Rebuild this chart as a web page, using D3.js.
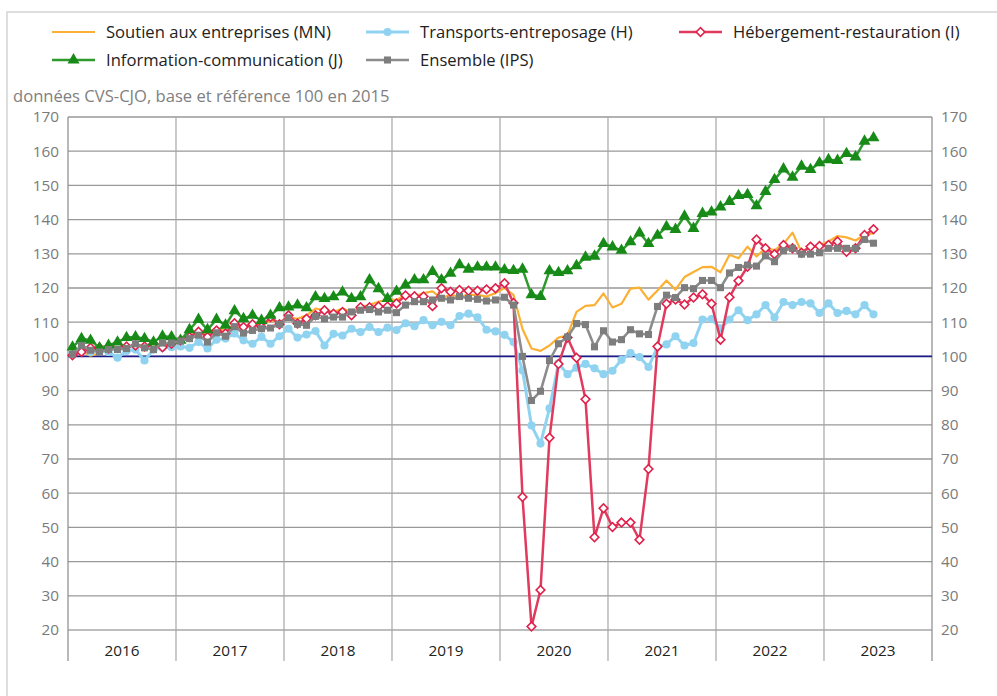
<!DOCTYPE html>
<html lang="fr">
<head>
<meta charset="utf-8">
<script src="https://cdn.jsdelivr.net/npm/d3@7/dist/d3.min.js"></script>
<style>
  body { margin: 0; background: #fff; }
  svg { font-family: "Open Sans", sans-serif; }
</style>
</head>
<body>
<div id="target"></div>
<script>
var WIDTH = 997;
var HEIGHT = 696;

// janvier 2016 -> juin 2023, mensuel
var years = ["2016", "2017", "2018", "2019", "2020", "2021", "2022", "2023"];
var yTicks = [20, 30, 40, 50, 60, 70, 80, 90, 100, 110, 120, 130, 140, 150, 160, 170];

var soutien = [
  101, 101.5, 100.2, 101, 102, 102.5, 103, 103, 103.5, 103, 103.5, 104,
  104.5, 106, 107, 106.5, 108.5, 107.5, 108.5, 108, 109.5, 109, 110.5, 110,
  111.5, 111, 112, 114, 113.5, 113, 114, 113, 114.5, 115, 116, 116.5,
  116.5, 118, 117.5, 118.5, 119, 117, 118, 117.5, 118, 118, 117.5, 118.5,
  120, 118, 108, 102.3, 101.6, 103.2, 105.5, 106.2, 113, 114.8, 115, 118.4,
  114.3, 115.4, 119.8, 120.1, 116.6, 119.3, 122.2, 119.5, 123.2, 124.7, 126.1, 126.2,
  124.6, 129.7, 128.7, 132.1, 129.2, 131.6, 131.1, 132.9, 136.2, 130.6, 132, 132.6,
  133.6, 135.2, 134.8, 133.9, 135.5, 136
];
var transports = [
  100.6, 102.3, 101.3, 101.8, 101.3, 99.6, 101.6, 102, 98.8, 102, 102.5, 102.7,
  102.9, 102.5, 104.2, 102.3, 104.9, 105.2, 106.7, 104.7, 103.7, 105.7, 103.7, 105.9,
  108.1, 105.5, 106.4, 107.4, 103.2, 106.6, 106.1, 108.1, 107.1, 108.6, 107.1, 108.4,
  107.7, 109.7, 108.8, 110.6, 109.1, 110.1, 109.1, 111.8, 112.5, 111.4, 107.8, 107.3,
  106.3, 104.2, 95.9, 79.8, 74.5, 84.8, 98, 94.8, 96.7, 97.8, 96.5, 94.8,
  95.8, 99, 101, 99.8, 96.9, 102.8, 103.5, 105.9, 103.2, 103.9, 110.8, 110.9,
  108.2, 110.8, 113.5, 110.6, 112.3, 115, 111.4, 115.9, 115, 115.9, 115.5, 112.7,
  115.5, 112.7, 113.3, 112.3, 115, 112.3
];
var hebergement = [
  100.3, 101.3, 102.5, 102.5, 102.3, 103.2, 102.9, 103.2, 102.9, 103.7, 102.7, 103.7,
  104.7, 105.7, 107.2, 105.7, 107.6, 106.7, 109.7, 108.6, 109.4, 108.6, 111.5, 109.4,
  112, 109.6, 111, 112, 113.5, 112.5, 113, 112, 114.4, 114.4, 114.6, 114.6,
  115.5, 117.8, 117.6, 117.5, 114.7, 119.9, 118.9, 119.4, 119.2, 119.2, 119.6, 119.9,
  121.4, 115.6, 58.9, 21, 31.7, 76.2, 97.8, 105.5, 99.6, 87.5, 47.1, 55.6,
  50.1, 51.4, 51.4, 46.4, 67.1, 102.9, 115.4, 116.6, 115.2, 117.2, 118.2, 115.4,
  104.9, 117.3, 122.1, 126.2, 134.2, 131.6, 129.9, 132.6, 131.6, 130.3, 132.1, 132.3,
  132.6, 133.6, 130.6, 131.6, 135.5, 137.2
];
var information = [
  102.7, 105.2, 104.7, 102.5, 103.2, 104.2, 105.5, 105.7, 105.2, 104.2, 105.9, 105.7,
  104.7, 107.8, 110.8, 107.8, 110.8, 109.1, 113.3, 111, 112, 110.5, 112, 114.2,
  114.4, 115, 114.2, 117.4, 116.9, 117.4, 118.8, 116.9, 117.4, 122.4, 119.8, 116.9,
  119, 120.9, 122.4, 122.4, 124.8, 122.4, 124.3, 126.8, 125.5, 126.1, 126.1, 126.1,
  125.3, 125.1, 125.5, 118, 117.5, 125, 124.5, 125, 126.5, 129, 129.3, 133,
  132, 131, 133.5, 136.1, 133, 135.4, 137.9, 137.1, 141, 137.4, 141.8, 142.2,
  143.7, 145.3, 147, 147.3, 144, 148.2, 151.7, 154.8, 152.4, 155.6, 154.6, 156.6,
  157.5, 157.3, 159.3, 158.3, 162.9, 163.9
];
var ensemble = [
  100.6, 103.2, 101.8, 101.3, 102, 102, 102.3, 103.7, 102.5, 102, 103.9, 103.9,
  104.5, 105.2, 106.2, 104.2, 106.9, 105.9, 108.7, 106.8, 107.6, 108.1, 108.3, 109.4,
  111.3, 109.4, 109.1, 111.7, 111, 111.5, 111.5, 113, 113.5, 113.7, 113, 113.5,
  112.8, 115, 116, 116, 116.5, 117, 116.5, 117.5, 117, 116.7, 116.2, 116.5,
  117.3, 115, 100, 87.1, 89.8, 98.8, 103.7, 105.7, 109.6, 109.3, 102.8, 107.5,
  104.2, 104.9, 107.8, 106.6, 106.4, 114.6, 117.9, 117.2, 120.1, 119.8, 122.2, 122.2,
  120.1, 124.4, 126, 126.7, 126.4, 129.4, 127.7, 130.9, 131.6, 129.9, 129.9, 130.3,
  131.6, 131.6, 131.6, 131.6, 134.2, 133.1
];

var series = [
  { name: "Soutien aux entreprises (MN)", values: soutien, line: "#fbb034", width: 2.2, symbol: null },
  { name: "Transports-entreposage (H)", values: transports, line: "#8fd3f0", width: 3, symbol: d3.symbolCircle, size: 52, fill: "#8fd3f0", stroke: "none" },
  { name: "Hébergement-restauration (I)", values: hebergement, line: "#e03a5e", width: 2.5, symbol: d3.symbolSquare, size: 38, rotate: 45, fill: "#fff", stroke: "#e0204a" },
  { name: "Information-communication (J)", values: information, line: "#2e9a2e", width: 2.5, symbol: d3.symbolTriangle, size: 62, fill: "#178a17", stroke: "none" },
  { name: "Ensemble (IPS)", values: ensemble, line: "#8c8c8c", width: 2.6, symbol: d3.symbolSquare, size: 50, fill: "#7d7d7d", stroke: "none" }
];

var svg = d3.select("#target").append("svg")
  .attr("width", WIDTH).attr("height", HEIGHT);

// cadre
svg.append("rect")
  .attr("x", 7).attr("y", 12)
  .attr("width", WIDTH + 10).attr("height", HEIGHT + 10)
  .attr("fill", "none").attr("stroke", "#dedede").attr("stroke-width", 2);

var PLOT_LEFT = 68, PLOT_RIGHT = 932, PLOT_TOP = 117, PLOT_BOTTOM = 630;

var x = d3.scaleLinear().domain([0, years.length * 12]).range([PLOT_LEFT, PLOT_RIGHT]);
var y = d3.scaleLinear().domain([20, 170]).range([PLOT_BOTTOM, PLOT_TOP]);

var g = svg.append("g");

// grille horizontale
g.selectAll("line.hgrid")
  .data(yTicks)
  .enter()
  .append("line")
  .attr("class", "hgrid")
  .attr("x1", PLOT_LEFT).attr("x2", PLOT_RIGHT)
  .attr("y1", function(d) { return y(d); })
  .attr("y2", function(d) { return y(d); })
  .attr("stroke", function(d) { return d == 20 ? "#bdbdbd" : "#999"; })
  .attr("stroke-width", function(d) { return d == 20 ? 2 : 1.3; });

// séparations des années
d3.range(years.length + 1).forEach(function(k) {
  g.append("line")
    .attr("x1", x(k * 12)).attr("x2", x(k * 12))
    .attr("y1", PLOT_TOP).attr("y2", 661)
    .attr("stroke", k == 0 || k == years.length ? "#8a8a8a" : "#a6a6a6")
    .attr("stroke-width", 1.2);
});

// ligne 100
g.append("line")
  .attr("x1", PLOT_LEFT).attr("x2", PLOT_RIGHT)
  .attr("y1", y(100)).attr("y2", y(100))
  .attr("stroke", "#1c1c8a").attr("stroke-width", 1.6);

// axes
var leftAxis = g.append("g")
  .attr("transform", "translate(" + PLOT_LEFT + ",0)")
  .call(d3.axisLeft(y).tickValues(yTicks).tickSize(0).tickPadding(9));
var rightAxis = g.append("g")
  .attr("transform", "translate(" + PLOT_RIGHT + ",0)")
  .call(d3.axisRight(y).tickValues(yTicks).tickSize(0).tickPadding(9));
[leftAxis, rightAxis].forEach(function(a) {
  a.select(".domain").remove();
  a.selectAll("text")
    .attr("font-size", 15.3)
    .attr("font-family", "Open Sans, sans-serif")
    .attr("fill", "#7a7a7a");
});

// années
g.selectAll("text.year")
  .data(years)
  .enter()
  .append("text")
  .attr("class", "year")
  .attr("x", function(d, i) { return x(i * 12 + 6); })
  .attr("y", 656)
  .attr("text-anchor", "middle")
  .attr("font-size", 15.3)
  .attr("fill", "#222")
  .text(function(d) { return d; });

var lineFunction = d3.line()
  .x(function(d, i) { return x(i + 0.5); })
  .y(function(d) { return y(d); });

var symbolTransform = function(s, px, py) {
  return "translate(" + px + "," + py + ")" + (s.rotate ? " rotate(" + s.rotate + ")" : "");
};

series.forEach(function(s) {
  var sg = g.append("g");
  sg.append("path")
    .attr("d", lineFunction(s.values))
    .attr("fill", "none")
    .attr("stroke", s.line)
    .attr("stroke-width", s.width)
    .attr("stroke-linejoin", "round");

  if (s.symbol) {
    sg.selectAll("path.pt")
      .data(s.values)
      .enter()
      .append("path")
      .attr("class", "pt")
      .attr("d", d3.symbol().type(s.symbol).size(s.size))
      .attr("transform", function(d, i) { return symbolTransform(s, x(i + 0.5), y(d)); })
      .attr("fill", s.fill)
      .attr("stroke", s.stroke)
      .attr("stroke-width", 1.6);
  }
});

// légende
var legendPos = [[52, 32], [366, 32], [679, 32], [52, 60], [366, 60]];

series.forEach(function(s, i) {
  var lx = legendPos[i][0], ly = legendPos[i][1];
  var lg = svg.append("g");
  lg.append("line")
    .attr("x1", lx).attr("x2", lx + 43)
    .attr("y1", ly).attr("y2", ly)
    .attr("stroke", s.line)
    .attr("stroke-width", s.width);
  if (s.symbol) {
    lg.append("path")
      .attr("d", d3.symbol().type(s.symbol).size(s.size))
      .attr("transform", symbolTransform(s, lx + 21.5, ly))
      .attr("fill", s.fill)
      .attr("stroke", s.stroke)
      .attr("stroke-width", 1.6);
  }
  lg.append("text")
    .attr("x", lx + 54)
    .attr("y", ly + 6)
    .attr("font-size", 16.6)
    .attr("fill", "#222")
    .text(s.name);
});

svg.append("text")
  .attr("x", 13)
  .attr("y", 102)
  .attr("font-size", 16.6)
  .attr("fill", "#808080")
  .text("données CVS-CJO, base et référence 100 en 2015");
</script>
</body>
</html>
